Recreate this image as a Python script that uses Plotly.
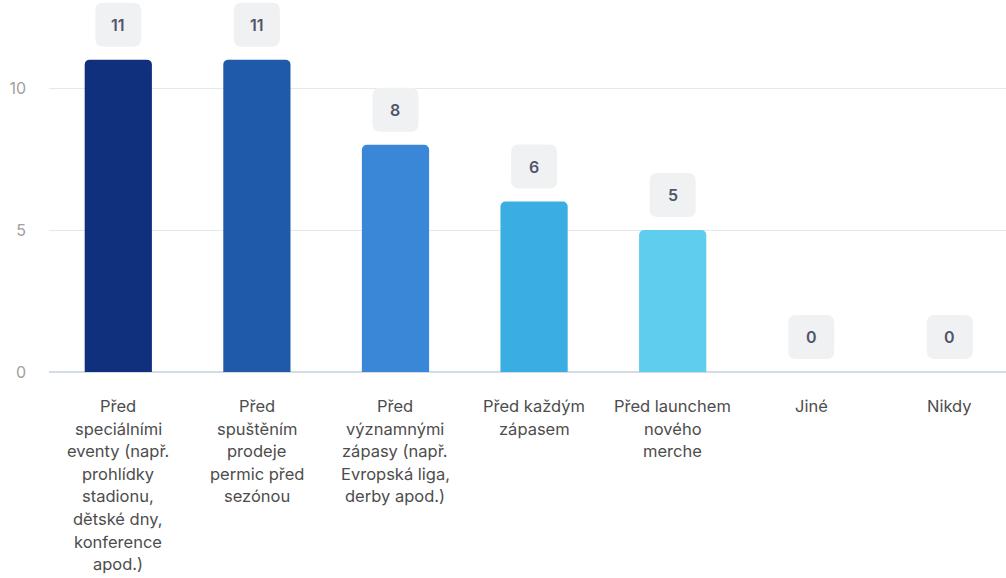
import plotly.graph_objects as go

# Survey answers (each label wrapped into lines as displayed under the axis)
label_lines = [
    ["Před", "speciálními", "eventy (např.", "prohlídky", "stadionu,", "dětské dny,", "konference", "apod.)"],
    ["Před", "spuštěním", "prodeje", "permic před", "sezónou"],
    ["Před", "významnými", "zápasy (např.", "Evropská liga,", "derby apod.)"],
    ["Před každým", "zápasem"],
    ["Před launchem", "nového", "merche"],
    ["Jiné"],
    ["Nikdy"],
]
counts = [11, 11, 8, 6, 5, 0, 0]
bar_colors = ["#10307e", "#1f5aa9", "#3987d6", "#3aade3", "#5fcdee", "#86dcf2", "#a9e7f6"]
y_ticks = [0, 5, 10]

categories = [" ".join(lines) for lines in label_lines]

FONT = "Inter, Noto Sans, sans-serif"

fig = go.Figure(
    go.Bar(
        x=categories,
        y=counts,
        marker=dict(color=bar_colors, line=dict(width=0)),
        width=0.485,
        hoverinfo="skip",
    )
)

BOX_W, BOX_H, GAP, R = 46, 44, 13, 8


def rounded_rect(w, h, r, y0):
    x0, x1 = -w / 2, w / 2
    y1 = y0 + h
    return (
        f"M {x0 + r},{y0} L {x1 - r},{y0} Q {x1},{y0} {x1},{y0 + r} "
        f"L {x1},{y1 - r} Q {x1},{y1} {x1 - r},{y1} L {x0 + r},{y1} "
        f"Q {x0},{y1} {x0},{y1 - r} L {x0},{y0 + r} Q {x0},{y0} {x0 + r},{y0} Z"
    )


shapes = []
annotations = []
for cat, val, lines in zip(categories, counts, label_lines):
    # value badge above each bar
    shapes.append(dict(
        type="path",
        xref="x", yref="y",
        xsizemode="pixel", ysizemode="pixel",
        xanchor=cat, yanchor=val,
        path=rounded_rect(BOX_W, BOX_H, R, GAP),
        fillcolor="#f0f1f2",
        line=dict(width=0),
        layer="above",
    ))
    annotations.append(dict(
        x=cat, y=val, xref="x", yref="y",
        text=str(val), showarrow=False,
        yshift=GAP + BOX_H / 2, yanchor="middle",
        font=dict(family=FONT, size=16, color="#50556a", weight=600),
    ))
    # category label lines under the axis
    for i, line in enumerate(lines):
        annotations.append(dict(
            x=cat, y=0, xref="x", yref="y",
            text=line, showarrow=False,
            yshift=-(34 + i * 22.6), yanchor="middle",
            font=dict(family=FONT, size=16.5, color="#4d4d4d"),
        ))

fig.update_layout(
    width=1006,
    height=578,
    margin=dict(l=49, r=0, t=0, b=206),
    paper_bgcolor="white",
    plot_bgcolor="white",
    showlegend=False,
    barcornerradius=5,
    shapes=shapes,
    annotations=annotations,
    font=dict(family=FONT),
)
fig.update_xaxes(
    range=[-0.5, 6.405],
    showticklabels=False,
    showgrid=False,
    zeroline=False,
    showline=False,
    ticks="",
)
fig.update_yaxes(
    range=[0, 13.1],
    tickvals=y_ticks,
    tickfont=dict(family=FONT, size=16, color="#a0a0a0"),
    ticklabelstandoff=22,
    showgrid=True,
    gridcolor="#e6e8eb",
    gridwidth=1,
    zeroline=True,
    zerolinecolor="#d3dce6",
    zerolinewidth=1.5,
    showline=False,
    ticks="",
)

fig.write_html("out.html")
